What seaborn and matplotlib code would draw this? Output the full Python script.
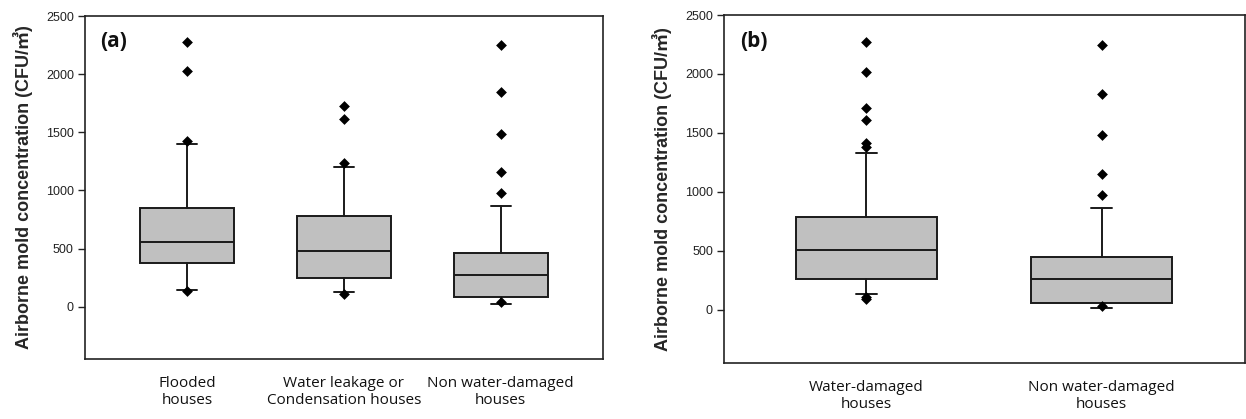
import numpy as np
import pandas as pd
import matplotlib
matplotlib.use("Agg")
import matplotlib.pyplot as plt
import seaborn as sns

# ---------------- data ----------------
cats_a = ["Flooded\nhouses", "Water leakage or\nCondensation houses", "Non water-damaged\nhouses"]
q1_a = [375, 247, 80]
med_a = [552, 481, 272]
q3_a = [848, 784, 461]
whislo_a = [140, 129, 26]
whishi_a = [1403, 1200, 862]
out_a = [
    [2277, 2025, 1429, 135],
    [1724, 1615, 1237, 106],
    [2251, 1847, 1486, 1157, 982, 37],
]

cats_b = ["Water-damaged\nhouses", "Non water-damaged\nhouses"]
q1_b = [265, 57]
med_b = [506, 263]
q3_b = [786, 452]
whislo_b = [136, 20]
whishi_b = [1333, 862]
out_b = [
    [2271, 2014, 1709, 1607, 1412, 1384, 113, 96],
    [2246, 1833, 1480, 1150, 977, 30],
]

yticks = [0, 500, 1000, 1500, 2000, 2500]
ylabel = "Airborne mold concentration (CFU/\u33a5)"

# ---------------- style ----------------
sns.set_theme(style="ticks")
plt.rcParams["font.family"] = ["Liberation Sans", "Noto Sans CJK KR", "DejaVu Sans"]

fig = plt.figure(figsize=(12.46, 4.19), dpi=100)
ax_a = fig.add_axes([0.0682, 0.1432, 0.4155, 0.8186])
ax_b = fig.add_axes([0.5811, 0.1337, 0.4180, 0.8305])

def draw(ax, cats, q1, med, q3, lo, hi, outs, xlim, capw, tag):
    stats = []
    for i in range(len(cats)):
        stats.append(dict(med=med[i], q1=q1[i], q3=q3[i], whislo=lo[i],
                          whishi=hi[i], fliers=[], label=cats[i]))
    pos = list(range(len(cats)))
    ax.bxp(stats, positions=pos, widths=0.6, patch_artist=True,
           showfliers=False, capwidths=capw,
           boxprops=dict(facecolor="#c0c0c0", edgecolor="#1a1a1a", linewidth=1.4),
           medianprops=dict(color="#1a1a1a", linewidth=1.4),
           whiskerprops=dict(color="#1a1a1a", linewidth=1.4),
           capprops=dict(color="#1a1a1a", linewidth=1.4))
    rows = []
    for i, c in enumerate(cats):
        for v in outs[i]:
            rows.append({"cat": c, "val": v})
    df = pd.DataFrame(rows)
    sns.stripplot(data=df, x="cat", y="val", order=cats, jitter=False,
                  marker="D", color="black", size=5.5, linewidth=0, ax=ax,
                  zorder=5)
    ax.set_xlim(*xlim)
    ax.set_ylim(-450, 2500)
    ax.set_yticks(yticks)
    ax.set_yticklabels([str(t) for t in yticks], fontsize=9, color="#222222")
    ax.set_xticks(pos)
    ax.set_xticklabels(cats, fontsize=11, family=["Open Sans", "DejaVu Sans"],
                       color="#111111", linespacing=1.25)
    ax.tick_params(axis="x", length=0, pad=12)
    ax.tick_params(axis="y", length=5, width=1.0, direction="out", pad=3,
                   color="#222222")
    ax.set_xlabel("")
    ax.set_ylabel(ylabel, fontsize=13, fontweight="bold",
                  family=["Liberation Sans", "Noto Sans CJK KR"], labelpad=9)
    for s in ax.spines.values():
        s.set_visible(True)
        s.set_linewidth(1.2)
        s.set_color("#222222")
    ax.text(0.03, 0.955, tag, transform=ax.transAxes, fontsize=15,
            fontweight="bold", family=["Open Sans", "DejaVu Sans"],
            va="top", ha="left", color="#111111")

draw(ax_a, cats_a, q1_a, med_a, q3_a, whislo_a, whishi_a, out_a,
     (-0.65, 2.65), 0.13, "(a)")
draw(ax_b, cats_b, q1_b, med_b, q3_b, whislo_b, whishi_b, out_b,
     (-0.605, 1.608), 0.09, "(b)")

fig.savefig("out.png", dpi=100)
